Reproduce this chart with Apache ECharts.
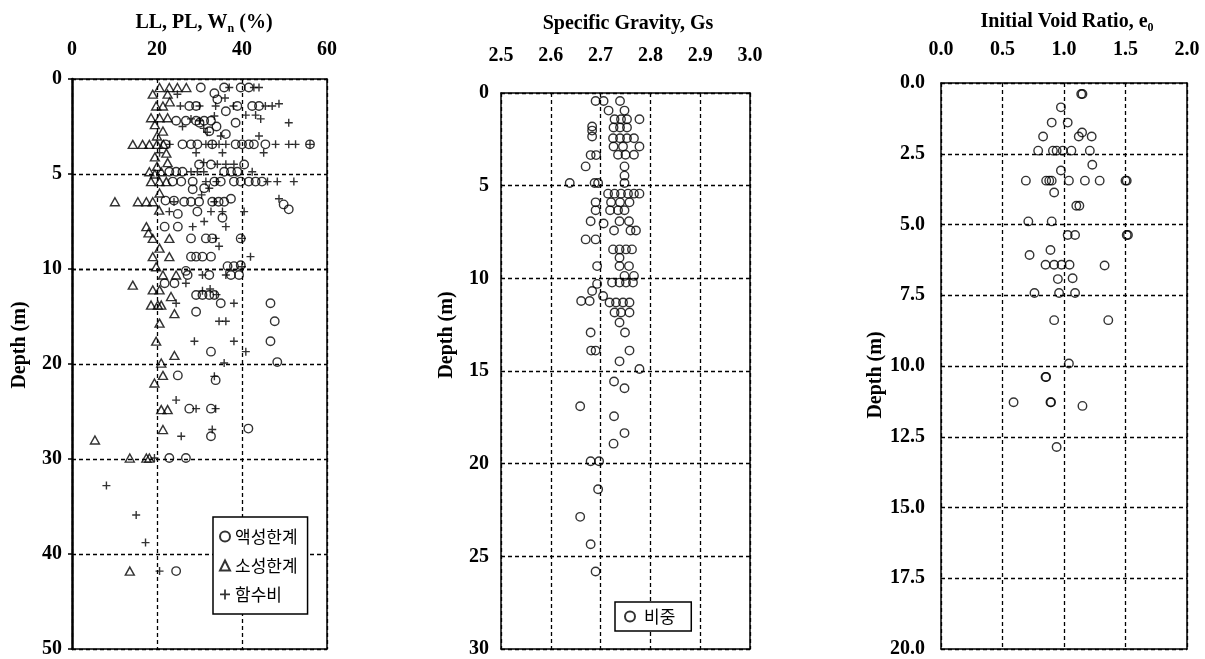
<!DOCTYPE html>
<html><head><meta charset="utf-8">
<script src="https://cdn.jsdelivr.net/npm/echarts@6/dist/echarts.min.js"></script>
<style>html,body{margin:0;padding:0;background:#fff}#c{width:1205px;height:659px}</style>
</head><body><div id="c"></div>
<script>
// ---- Panel 1: LL, PL, Wn (%) vs depth (m) ----
const llData = [[30.3,0.45],[35.8,0.45],[39.7,0.45],[41.6,0.45],[33.5,0.75],[34.2,1.07],
[27.6,1.42],[29.2,1.42],[38.9,1.42],[42.4,1.42],[44,1.42],
[24.5,2.2],[26.8,2.2],[29.2,2.2],[31.1,2.2],[32.7,2.2],[36.2,1.7],[38.5,2.3],[30,2.3],
[32.3,2.75],[36.2,2.9],[34,2.5],
[22,3.44],[26,3.44],[28,3.44],[29.5,3.44],[33,3.44],[38.5,3.44],[40,3.44],[41.6,3.44],[42.8,3.44],[45.5,3.44],[56,3.44],
[29.9,4.5],[32.7,4.5],[40.5,4.5],
[22.9,4.88],[24.5,4.88],[26,4.88],[35.8,4.88],[37.4,4.88],[38.9,4.88],
[23.7,5.4],[25.7,5.4],[28.4,5.4],[33.5,5.4],[35,5.4],[38.1,5.4],[39.7,5.4],[41.6,5.4],[43.2,5.4],[44.7,5.4],
[28.4,5.8],[31.1,5.75],
[22,6.4],[24,6.4],[26.4,6.46],[28,6.46],[29.9,6.46],[33,6.46],[34.5,6.46],[35.8,6.46],[37.4,6.3],[49.8,6.6],[51,6.86],
[24.9,7.1],[29.5,6.98],[35.4,7.3],[21.8,7.77],[24.9,7.77],
[28,8.39],[31.5,8.39],[33,8.39],[39.7,8.39],
[28,9.35],[29.2,9.35],[30.7,9.35],[32.7,9.35],
[36.6,9.85],[38.1,9.85],[39.7,9.8],[26.8,10.2],
[27.2,10.63],[32.3,10.63],[37.4,10.63],[39.3,10.63],[21.8,11.5],[24.1,11.5],
[29.2,12.74],[30.7,12.74],[32.3,12.74],[33.5,12.74],[35,13.6],[46.7,13.6],
[29.2,14.5],[47.7,15.5],[46.7,17.6],[32.7,18.7],[48.3,19.8],[24.9,21.2],[33.8,21.7],
[27.6,24.7],[32.7,24.7],[41.5,26.8],[32.7,27.6],[22.9,29.9],[26.8,29.9],[24.5,41.8]];

const plData = [[20.6,0.45],[22.9,0.45],[24.8,0.45],[26.9,0.45],[19,0.8],[22.5,0.8],
[19.8,1.42],[21.4,1.42],[23,1.2],[18.6,2.04],[20.6,2.04],[22.5,2.04],[19.5,2.4],
[21.4,2.74],[20,3.0],[14.3,3.44],[16.6,3.44],[18.2,3.44],[20,3.44],[21.5,3.44],
[22.2,3.9],[19.5,4.1],[22.5,4.4],[20,4.6],[18.2,4.88],[21,4.88],[19.5,5.0],
[18.6,5.4],[20.6,5.4],[22.2,5.4],[10.1,6.46],[15.5,6.46],[17.5,6.46],[19,6.46],[20.6,6.0],
[20.5,6.9],[17.5,7.77],[18,8.1],[19,8.39],[22.9,8.39],[20.6,8.9],[19,9.35],[22.9,9.35],[19.8,9.88],
[21.4,10.63],[24.5,10.63],[14.3,11.7],[19,12.2],[20.6,12.2],[23.3,12.9],
[18.6,13.8],[20.2,13.8],[21,13.8],[24.1,14.7],[20.6,15.7],[19.8,17.6],[24.1,19.1],[21,19.9],
[21.4,21.2],[19.4,22],[21,24.8],[22.5,24.8],[21.4,26.9],[5.4,28],
[13.6,29.9],[17.5,29.9],[18.2,29.9],[13.6,41.8]];

const wnData = [[37,0.45],[42.8,0.45],[44,0.45],[24.8,0.8],[36,1.0],
[25.5,1.42],[30,1.42],[33.8,1.42],[38,1.42],[45.5,1.42],[47.1,1.42],[48.7,1.3],
[33.5,1.95],[40.9,1.9],[43.2,1.9],[44.4,2.1],[28,2.1],[30,2.2],[51,2.3],[26,2.5],[31,2.6],
[31.8,2.8],[35,3.0],[44,3.0],
[23,3.44],[31.5,3.44],[33,3.44],[34.6,3.44],[36.2,3.44],[47.9,3.44],[51,3.44],[52.6,3.44],[56,3.44],
[20.6,3.88],[29.2,3.88],[35.4,3.88],[45.1,3.88],[34.2,4.49],[36.2,4.49],[38.1,4.49],[31,4.4],
[28,4.88],[29.5,4.88],[31,4.88],[42.4,4.88],[31.5,5.4],[34,5.4],[46,5.4],[48.3,5.4],[52.2,5.4],
[32.3,5.75],[24,6.46],[30.5,6.1],[33.5,6.46],[48.7,6.3],
[22.9,6.98],[31.1,7.5],[32.7,6.98],[35.4,6.98],[40.5,6.98],[28.4,7.77],[36.2,7.77],
[33.8,8.39],[40,8.39],[34.6,8.8],[42,9.35],[40,9.88],
[30.7,10.63],[36.2,10.63],[26.8,11.5],[30.7,12.3],[32.5,12.1],[34,12.7],
[24.5,13.6],[38.1,13.6],[34.6,15.5],[36.2,15.5],[28.8,17.6],[38.1,17.6],[40.9,18.7],
[35.8,19.9],[33.5,21.3],[24.5,23.8],[29.2,24.7],[33.8,24.7],[33,26.9],[25.7,27.6],
[19.4,29.9],[8.1,32.8],[15.1,35.9],[17.3,38.8],[20.6,41.8]];

// ---- Panel 2: Specific gravity vs depth ----
const gsData = [[2.69,0.43],[2.706,0.43],[2.739,0.43],[2.716,0.95],[2.748,0.95],
[2.728,1.42],[2.741,1.42],[2.753,1.42],[2.778,1.42],[2.683,1.81],[2.683,2.03],
[2.726,1.86],[2.739,1.86],[2.753,1.86],[2.683,2.35],
[2.725,2.44],[2.739,2.44],[2.753,2.44],[2.767,2.44],[2.726,2.89],[2.745,2.89],[2.778,2.89],
[2.735,3.33],[2.75,3.33],[2.767,3.33],[2.68,3.35],[2.691,3.35],[2.67,3.96],[2.748,3.96],[2.748,4.46],
[2.638,4.86],[2.688,4.86],[2.695,4.86],[2.748,4.86],
[2.715,5.43],[2.728,5.43],[2.741,5.43],[2.755,5.43],[2.767,5.43],[2.778,5.43],
[2.69,5.9],[2.721,5.9],[2.739,5.9],[2.758,5.9],[2.69,6.33],[2.719,6.33],[2.735,6.33],[2.748,6.33],
[2.68,6.92],[2.706,7.04],[2.738,6.92],[2.757,6.92],[2.727,7.42],[2.76,7.42],[2.771,7.42],
[2.67,7.9],[2.69,7.9],[2.725,8.44],[2.738,8.44],[2.751,8.44],[2.763,8.44],[2.738,8.89],
[2.693,9.34],[2.738,9.34],[2.757,9.34],[2.748,9.87],[2.767,9.87],
[2.723,10.23],[2.738,10.23],[2.751,10.23],[2.765,10.23],[2.693,10.3],[2.683,10.68],[2.705,10.95],
[2.661,11.22],[2.678,11.22],[2.718,11.3],[2.731,11.3],[2.745,11.3],[2.758,11.3],
[2.728,11.84],[2.741,11.84],[2.758,11.84],[2.738,12.38],[2.68,12.92],[2.749,12.92],
[2.681,13.9],[2.69,13.9],[2.758,13.9],[2.738,14.48],[2.778,14.89],[2.727,15.57],[2.748,15.93],
[2.659,16.9],[2.727,17.44],[2.748,18.35],[2.726,18.92],[2.68,19.87],[2.697,19.87],
[2.695,21.38],[2.659,22.87],[2.68,24.35],[2.69,25.82]];

// ---- Panel 3: Initial void ratio vs depth ----
const e0Data = [[1.14,0.39],[1.15,0.39],[0.975,0.86],[0.90,1.40],[1.03,1.40],[1.147,1.75],[1.12,1.89],[1.225,1.89],[0.83,1.89],
[0.79,2.39],[0.91,2.39],[0.94,2.39],[0.99,2.39],[1.06,2.39],[1.21,2.39],[1.23,2.89],[0.975,3.09],
[0.69,3.45],[0.855,3.45],[0.88,3.45],[0.90,3.45],[1.04,3.45],[1.17,3.45],[1.29,3.45],[1.50,3.45],[1.51,3.45],
[0.92,3.87],[1.10,4.34],[1.125,4.34],[0.71,4.89],[0.90,4.89],[1.03,5.37],[1.09,5.37],[1.51,5.37],[1.52,5.37],
[0.89,5.90],[0.72,6.08],[0.85,6.42],[0.92,6.42],[0.98,6.42],[1.045,6.42],[1.33,6.45],
[0.95,6.93],[1.07,6.9],[0.76,7.42],[0.96,7.42],[1.09,7.42],[0.92,8.38],[1.36,8.38],[1.04,9.91],
[0.85,10.39],[0.855,10.39],[0.59,11.28],[0.89,11.28],[0.895,11.28],[1.15,11.41],[0.94,12.86]];

const names = {ll: '액성한계', pl: '소성한계', wn: '함수비', gs: '비중'};

const SERIF = "'Liberation Serif','DejaVu Serif',serif";
const KR = "'Noto Sans CJK KR','Noto Sans',sans-serif";
const dash = {show: true, lineStyle: {type: [4, 3], color: '#000', width: 1.3}};
const axLine = w => ({show: true, onZero: false, lineStyle: {color: '#000', width: w || 1.5}});
const lab = (fmt, margin) => ({show: true, color: '#000', fontFamily: SERIF, fontWeight: 'bold', fontSize: 20, margin: margin, formatter: fmt});
const plainAxis = (grid, pos, min, max, interval, extra) => Object.assign({
  type: 'value', gridIndex: grid, position: pos, min: min, max: max, interval: interval,
  axisLine: axLine(), axisTick: {show: false}, axisLabel: {show: false}, splitLine: {show: false}
}, extra || {});

const hollow = {color: 'rgba(0,0,0,0)', borderColor: '#000', borderWidth: 1.4};
const plusPath = 'path://M3.3,0H4.7V3.3H8V4.7H4.7V8H3.3V4.7H0V3.3H3.3Z';

function sc(name, data, xi, yi, kind) {
  const s = {type: 'scatter', name: name, data: data, xAxisIndex: xi, yAxisIndex: yi, clip: false, animation: false, silent: true};
  if (kind === 'o') { s.symbol = 'circle'; s.symbolSize = 8.5; s.itemStyle = hollow; }
  if (kind === 't') { s.symbol = 'triangle'; s.symbolSize = [9, 8]; s.itemStyle = hollow; }
  if (kind === '+') { s.symbol = plusPath; s.symbolSize = 8; s.itemStyle = {color: '#000'}; }
  return s;
}
const upperPart = d => d.filter(p => p[1] < 10);
const lowerPart = d => d.filter(p => p[1] >= 10);

const titleRich = {
  b: {fontFamily: SERIF, fontWeight: 'bold', fontSize: 20, color: '#000'},
  s: {fontFamily: SERIF, fontWeight: 'bold', fontSize: 12, color: '#000', padding: [12, 0, 0, 0]}
};
const depthFont = "bold 20px 'Liberation Serif'";

const chart = echarts.init(document.getElementById('c'), null, {renderer: 'canvas'});
chart.setOption({
  backgroundColor: '#fff',
  animation: false,
  title: [
    {text: '{b|LL, PL, W}{s|n}{b| (%)}', left: 199, top: 6, textAlign: 'center', textStyle: {rich: titleRich}},
    {text: '{b|Specific Gravity, Gs}', left: 623, top: 9, textAlign: 'center', textStyle: {rich: titleRich}},
    {text: '{b|Initial Void Ratio, e}{s|0}', left: 1062, top: 5, textAlign: 'center', textStyle: {rich: titleRich}}
  ],
  grid: [
    {left: 72, top: 79, width: 255, height: 190},
    {left: 72, top: 269, width: 255, height: 380},
    {left: 501, top: 93, width: 249, height: 557},
    {left: 941, top: 83, width: 246, height: 567}
  ],
  xAxis: [
    plainAxis(0, 'top', 0, 60, 20, {axisLabel: lab(null, 19), splitLine: dash}),
    plainAxis(1, 'bottom', 0, 60, 20, {splitLine: dash}),
    plainAxis(2, 'top', 2.5, 3.0, 0.1, {axisLabel: lab(v => v.toFixed(1), 27), splitLine: dash}),
    plainAxis(2, 'bottom', 2.5, 3.0, 0.1),
    plainAxis(3, 'top', 0, 2, 0.5, {axisLabel: lab(v => v.toFixed(1), 23), splitLine: dash}),
    plainAxis(3, 'bottom', 0, 2, 0.5)
  ],
  yAxis: [
    plainAxis(0, 'left', 0, 10, 5, {inverse: true, axisLine: axLine(2.5), axisLabel: lab(null, 10),
      axisTick: {show: true, length: 4, lineStyle: {color: '#000', width: 1.5}}, splitLine: dash}),
    plainAxis(0, 'right', 0, 10, 5, {inverse: true}),
    plainAxis(1, 'left', 10, 50, 10, {inverse: true, axisLine: axLine(2.5),
      axisLabel: Object.assign(lab(null, 10), {showMinLabel: false}),
      axisTick: {show: true, length: 4, lineStyle: {color: '#000', width: 1.5}}, splitLine: dash}),
    plainAxis(1, 'right', 10, 50, 10, {inverse: true}),
    plainAxis(2, 'left', 0, 30, 5, {inverse: true, axisLabel: lab(null, 12), splitLine: dash}),
    plainAxis(2, 'right', 0, 30, 5, {inverse: true}),
    plainAxis(3, 'left', 0, 20, 2.5, {inverse: true, axisLabel: lab(v => v.toFixed(1), 16), splitLine: dash}),
    plainAxis(3, 'right', 0, 20, 2.5, {inverse: true})
  ],
  legend: [
    {data: [names.ll, names.pl, names.wn], orient: 'vertical', left: 213, top: 517,
     backgroundColor: '#fff', borderColor: '#000', borderWidth: 1.5, borderRadius: 0,
     padding: [11, 10, 11, 6], itemGap: 12, itemWidth: 10, itemHeight: 10,
     textStyle: {fontFamily: KR, fontSize: 17, color: '#000'}, selectedMode: false},
    {data: [names.gs], orient: 'vertical', left: 615, top: 602,
     backgroundColor: '#fff', borderColor: '#000', borderWidth: 1.5, borderRadius: 0,
     padding: [6, 16, 6, 9], itemWidth: 10, itemHeight: 10, itemGap: 8,
     textStyle: {fontFamily: KR, fontSize: 17, color: '#000', padding: [0, 0, 0, 4]}, selectedMode: false}
  ],
  graphic: [
    {type: 'text', x: 20, y: 345, rotation: Math.PI / 2, style: {text: 'Depth (m)', font: depthFont, fill: '#000', textAlign: 'center', textVerticalAlign: 'middle'}},
    {type: 'text', x: 447, y: 335, rotation: Math.PI / 2, style: {text: 'Depth (m)', font: depthFont, fill: '#000', textAlign: 'center', textVerticalAlign: 'middle'}},
    {type: 'text', x: 876, y: 375, rotation: Math.PI / 2, style: {text: 'Depth (m)', font: depthFont, fill: '#000', textAlign: 'center', textVerticalAlign: 'middle'}}
  ],
  series: [
    sc(names.ll, upperPart(llData), 0, 0, 'o'),
    sc(names.pl, upperPart(plData), 0, 0, 't'),
    sc(names.wn, upperPart(wnData), 0, 0, '+'),
    sc(names.ll, lowerPart(llData), 1, 2, 'o'),
    sc(names.pl, lowerPart(plData), 1, 2, 't'),
    sc(names.wn, lowerPart(wnData), 1, 2, '+'),
    sc(names.gs, gsData, 2, 4, 'o'),
    sc('e0', e0Data, 4, 6, 'o')
  ]
});
</script></body></html>
